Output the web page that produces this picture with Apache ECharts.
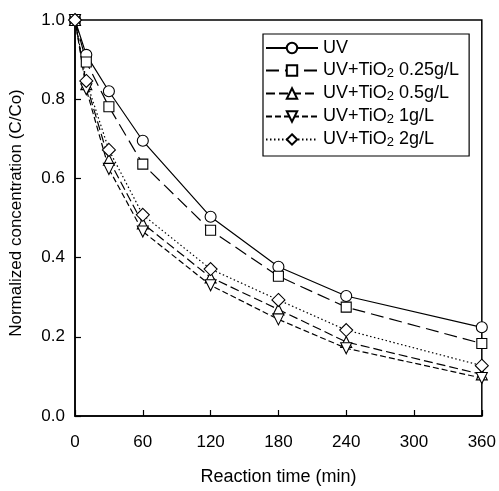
<!DOCTYPE html>
<html>
<head>
<meta charset="utf-8">
<script src="https://cdn.jsdelivr.net/npm/echarts@6/dist/echarts.min.js"></script>
<style>
  html, body { margin: 0; padding: 0; background: #fff; }
  #chart { width: 499px; height: 491px; }
</style>
</head>
<body>
<div id="chart"></div>
<script>
// reaction time (min)
const times = [0, 10, 30, 60, 120, 180, 240, 360];

// normalized concentration C/Co
const uv = [1.0, 0.912, 0.820, 0.695, 0.503, 0.377, 0.303, 0.224];
const tio2_025 = [1.0, 0.894, 0.781, 0.636, 0.469, 0.353, 0.275, 0.183];
const tio2_05 = [1.0, 0.838, 0.647, 0.486, 0.350, 0.269, 0.187, 0.105];
const tio2_1 = [1.0, 0.825, 0.624, 0.466, 0.330, 0.244, 0.171, 0.096];
const tio2_2 = [1.0, 0.846, 0.672, 0.508, 0.371, 0.293, 0.217, 0.127];

const xTicks = [0, 60, 120, 180, 240, 300, 360];
const yTicks = [0.0, 0.2, 0.4, 0.6, 0.8, 1.0];

const font = '"Liberation Sans", Arial, sans-serif';

const pairs = (ys) => times.map((t, i) => [t, ys[i]]);

const makeSeries = (name, ys, symbol, dash, extra) => ({
  name,
  type: 'line',
  data: pairs(ys),
  symbol,
  symbolSize: 11,
  showSymbol: true,
  lineStyle: { color: '#000', width: 1.2, type: dash },
  itemStyle: { color: '#fff', borderColor: '#000', borderWidth: 1.1 },
  emphasis: { disabled: true },
  animation: false,
  ...extra
});

const series = [
  makeSeries('UV', uv, 'circle', 'solid'),
  makeSeries('UV+TiO2 0.25g/L', tio2_025, 'rect', [13, 6], { symbolSize: 10 }),
  makeSeries('UV+TiO2 0.5g/L', tio2_05, 'triangle', [9, 4]),
  makeSeries('UV+TiO2 1g/L', tio2_1, 'triangle', [6, 3], { symbolRotate: 180 }),
  makeSeries('UV+TiO2 2g/L', tio2_2, 'diamond', [1.5, 2.5], { symbolSize: 13 })
];

const chart = echarts.init(document.getElementById('chart'));
chart.setOption({
  backgroundColor: '#fff',
  textStyle: { fontFamily: font, color: '#000' },
  grid: {
    left: 73, right: 17, top: 20, bottom: 64,
    show: true, borderColor: '#000', borderWidth: 1.5,
    backgroundColor: 'transparent'
  },
  legend: {
    left: 263, top: 34,
    orient: 'vertical',
    padding: [5, 10, 7, 2],
    itemGap: 3,
    itemWidth: 52,
    itemHeight: 13,
    borderColor: '#000',
    borderWidth: 1.2,
    backgroundColor: '#fff',
    align: 'left',
    data: series.map(s => s.name),
    formatter: (name) => {
      const m = name.match(/^UV\+TiO2 (.*)$/);
      return m ? '{t|UV+TiO}{s|2}{t| ' + m[1] + '}' : '{t|' + name + '}';
    },
    textStyle: {
      fontFamily: font,
      color: '#000',
      rich: {
        t: { fontFamily: font, fontSize: 18, color: '#000', lineHeight: 19 },
        s: { fontFamily: font, fontSize: 13, color: '#000', verticalAlign: 'bottom', padding: [7, 0, 0, 0], lineHeight: 19 }
      }
    }
  },
  xAxis: {
    type: 'value',
    min: 0, max: 360, interval: 60,
    name: 'Reaction time (min)',
    nameLocation: 'middle',
    nameGap: 52,
    nameTextStyle: { fontFamily: font, fontSize: 18, color: '#000' },
    axisLine: { show: true, lineStyle: { color: '#000', width: 1.5 } },
    axisTick: { show: true, inside: true, length: 6, lineStyle: { color: '#000', width: 1.2 } },
    axisLabel: {
      fontFamily: font, fontSize: 17, color: '#000', margin: 18,
      formatter: (v) => xTicks.includes(v) ? String(v) : ''
    },
    splitLine: { show: false }
  },
  yAxis: {
    type: 'value',
    min: 0, max: 1.0, interval: 0.2,
    name: 'Normalized concentration (C/Co)',
    nameLocation: 'middle',
    nameGap: 50,
    nameTextStyle: { fontFamily: font, fontSize: 17, color: '#000', padding: [0, 0, 0, 10] },
    axisLine: { show: true, lineStyle: { color: '#000', width: 1.5 } },
    axisTick: { show: true, inside: true, length: 6, lineStyle: { color: '#000', width: 1.2 } },
    axisLabel: {
      fontFamily: font, fontSize: 17, color: '#000', margin: 10,
      formatter: (v) => {
        const t = yTicks.find(y => Math.abs(y - v) < 1e-6);
        return t === undefined ? '' : t.toFixed(1);
      }
    },
    splitLine: { show: false }
  },
  series
});
</script>
</body>
</html>
